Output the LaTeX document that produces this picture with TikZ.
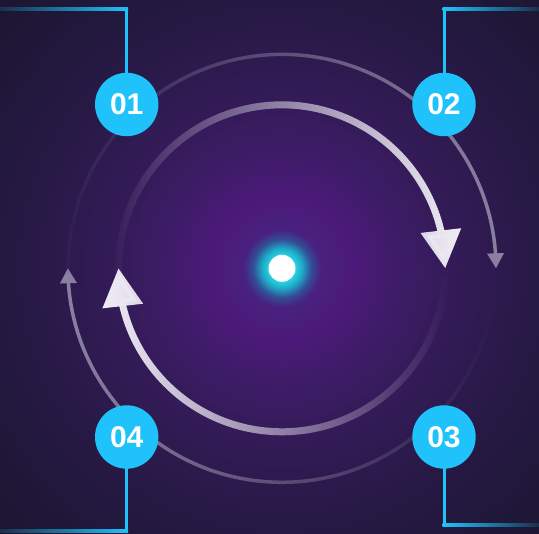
\documentclass[tikz,border=0pt]{standalone}
\usepackage{fontspec}
\setsansfont{Liberation Sans}
\usepackage{xcolor}
\usepackage{tikz}
\usetikzlibrary{arrows.meta, bending, fadings, calc}

\definecolor{bgdark}{RGB}{27,22,48}
\definecolor{numblue}{RGB}{32,194,252}
\definecolor{arcwhite}{RGB}{236,232,242}
\definecolor{arcgray}{RGB}{140,128,162}
\definecolor{glowa}{RGB}{110,236,246}
\definecolor{glowb}{RGB}{40,205,222}
\definecolor{glowc}{RGB}{30,170,200}
\definecolor{glowd}{RGB}{50,80,150}
\definecolor{glowe}{RGB}{72,34,126}
\definecolor{glowf}{RGB}{76,26,122}
\definecolor{glowg}{RGB}{60,28,102}
\definecolor{glowh}{RGB}{50,27,85}
\definecolor{glowi}{RGB}{38,25,68}
\definecolor{glowj}{RGB}{30,23,54}

% 25bp = 400px of the glow circle
\pgfdeclareradialshading{hubglow}{\pgfpoint{0bp}{0bp}}{%
  color(0bp)=(glowa); color(0.875bp)=(glowb); color(1.25bp)=(glowc);
  color(1.8bp)=(glowd); color(2.4bp)=(glowe); color(4.375bp)=(glowf);
  color(7.5bp)=(glowg); color(11.25bp)=(glowh); color(16.25bp)=(glowi);
  color(21.875bp)=(glowj); color(25bp)=(bgdark); color(50bp)=(bgdark)}

\begin{document}
\begin{tikzpicture}[x=1pt, y=1pt,
  num/.style={circle, fill=numblue, text=white, minimum size=63.4pt, inner sep=0pt,
    font=\sffamily\bfseries\fontsize{30}{36}\selectfont},
  link/.style={draw=numblue, line width=3pt, line cap=rect},
  hub/.style={circle, fill=white, minimum size=27pt, inner sep=0pt},
  inarc/.style={draw=arcwhite, line width=7pt, -{Triangle[width=39pt,length=38pt]}},
  outarc/.style={draw=arcgray, line width=3.5pt, -{Triangle[width=16pt,length=15pt]}}]
\useasboundingbox (0,0) rectangle (539,534);
\fill[bgdark] (0,0) rectangle (539,534);
\coordinate (ctr) at (282,265.7);
\begin{scope}
  \clip (0,0) rectangle (539,534);
  \shade[shading=hubglow] (ctr) circle[radius=400];
\end{scope}
% rings
\draw[outarc, path fading=west] (ctr) ++(195:214) arc[start angle=195, end angle=0, radius=214];
\draw[outarc, path fading=east] (ctr) ++(-5:214) arc[start angle=-5, end angle=-180, radius=214];
\draw[inarc, path fading=west] (ctr) ++(185:163.5) arc[start angle=185, end angle=0, radius=163.5];
\draw[inarc, path fading=east] (ctr) ++(-3:163.5) arc[start angle=-3, end angle=-180, radius=163.5];
\node[hub] (dot) at (ctr) {};
% steps
\node[num] (n1) at (126.7,429.5) {01};
\node[num] (n2) at (444,429.5) {02};
\node[num] (n3) at (444,97) {03};
\node[num] (n4) at (126.7,97) {04};
\coordinate (k1) at (126.7,525);
\coordinate (e1) at (0,525);
\coordinate (k2) at (444,525);
\coordinate (e2) at (539,525);
\coordinate (k3) at (444,9);
\coordinate (e3) at (539,9);
\coordinate (k4) at (126.7,3.3);
\coordinate (e4) at (0,3.3);
\draw[link] (n1) -- (k1);
\draw[link] (n2) -- (k2);
\draw[link] (n3) -- (k3);
\draw[link] (n4) -- (k4);
\shade[left color=numblue!15!bgdark, middle color=numblue!75!bgdark, right color=numblue]
  ($(e1)+(0,-1.5)$) rectangle ($(k1)+(1.5,1.5)$);
\shade[left color=numblue, middle color=numblue!75!bgdark, right color=numblue!15!bgdark]
  ($(k2)+(-1.5,-1.5)$) rectangle ($(e2)+(0,1.5)$);
\shade[left color=numblue, middle color=numblue!75!bgdark, right color=numblue!15!bgdark]
  ($(k3)+(-1.5,-1.5)$) rectangle ($(e3)+(0,1.5)$);
\shade[left color=numblue!15!bgdark, middle color=numblue!75!bgdark, right color=numblue]
  ($(e4)+(0,-1.5)$) rectangle ($(k4)+(1.5,1.5)$);
\end{tikzpicture}
\end{document}
